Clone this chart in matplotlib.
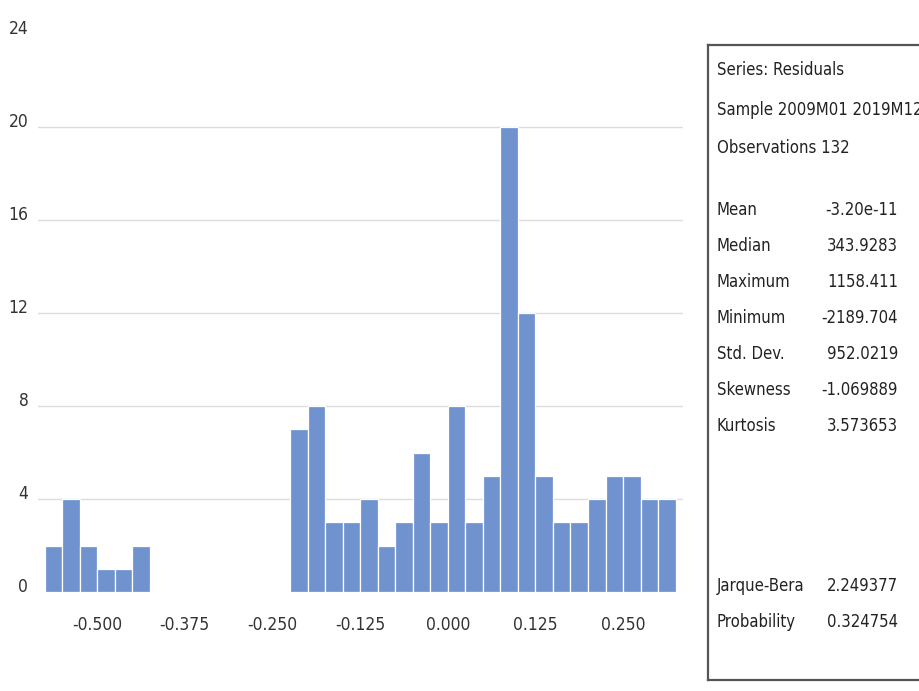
import numpy as np
import matplotlib
matplotlib.use("Agg")
import matplotlib.pyplot as plt
from matplotlib.lines import Line2D
from matplotlib.transforms import ScaledTranslation

plt.rcParams['font.family'] = ['DejaVu Sans']
plt.rcParams['font.stretch'] = 'condensed'

# Histogram of residuals: bin edges every 0.025
bin_start = -0.575
bin_width = 0.025
counts = [2, 4, 2, 1, 1, 2,
          0, 0, 0, 0, 0, 0, 0, 0,
          7, 8, 3, 3, 4, 2, 3, 6, 3, 8, 3, 5, 20, 12, 5, 3, 3, 4, 5, 5, 4, 4]

x_ticks = [-0.500, -0.375, -0.250, -0.125, 0.000, 0.125, 0.250]
x_tick_labels = ["-0.500", "-0.375", "-0.250", "-0.125", "0.000", "0.125", "0.250"]
y_ticks = [0, 4, 8, 12, 16, 20, 24]

header_lines = ["Series: Residuals", "Sample 2009M01 2019M12", "Observations 132"]
stat_names = ["Mean", "Median", "Maximum", "Minimum", "Std. Dev.", "Skewness", "Kurtosis"]
stat_values = ["-3.20e-11", "343.9283", "1158.411", "-2189.704", "952.0219", "-1.069889", "3.573653"]
test_names = ["Jarque-Bera", "Probability"]
test_values = ["2.249377", "0.324754"]

W, H = 919, 691
fig = plt.figure(figsize=(W / 100, H / 100), dpi=100)
fig.patch.set_facecolor("white")

ax_left, ax_right, ax_top, ax_bottom = 38, 683, 34, 592
ax = fig.add_axes([ax_left / W, (H - ax_bottom) / H,
                   (ax_right - ax_left) / W, (ax_bottom - ax_top) / H])

edges = bin_start + bin_width * np.arange(len(counts) + 1)
ax.bar(edges[:-1], counts, width=bin_width, align="edge",
       color="#7093cf", edgecolor="white", linewidth=0.9, zorder=2)

ax.set_xlim(-0.5844, 0.3355)
ax.set_ylim(0, 24)
ax.set_yticks(y_ticks)
ax.set_xticks(x_ticks)
ax.set_xticklabels(x_tick_labels)
for y in y_ticks[1:-1]:
    ax.axhline(y, color="#dcdcdc", linewidth=1.0, zorder=1)
for s in ax.spines.values():
    s.set_visible(False)
ax.tick_params(axis="both", length=0, labelsize=12.5, colors="#333333")
ax.tick_params(axis="x", pad=17)
ax.tick_params(axis="y", pad=7)
lift = ScaledTranslation(0, 5 / 72, fig.dpi_scale_trans)
for lab in ax.get_yticklabels():
    lab.set_transform(lab.get_transform() + lift)

# statistics panel
bx = 708
top_y = 45
bot_y = 680
line_kw = dict(color="#555555", linewidth=1.6, transform=fig.transFigure)
fig.add_artist(Line2D([bx / W, bx / W], [1 - bot_y / H, 1 - top_y / H], **line_kw))
fig.add_artist(Line2D([bx / W, 1], [1 - top_y / H, 1 - top_y / H], **line_kw))
fig.add_artist(Line2D([bx / W, 1], [1 - bot_y / H, 1 - bot_y / H], **line_kw))

txt_kw = dict(fontsize=12, color="#222222", va="center")
lx = 717 / W
vx = 898 / W
rows_y = [70, 110, 148]
for t, y in zip(header_lines, rows_y):
    fig.text(lx, 1 - y / H, t, ha="left", **txt_kw)
stat_y = [210, 246, 282, 318, 354, 390, 426]
for n, v, y in zip(stat_names, stat_values, stat_y):
    fig.text(lx, 1 - y / H, n, ha="left", **txt_kw)
    fig.text(vx, 1 - y / H, v, ha="right", **txt_kw)
test_y = [586, 622]
for n, v, y in zip(test_names, test_values, test_y):
    fig.text(lx, 1 - y / H, n, ha="left", **txt_kw)
    fig.text(vx, 1 - y / H, v, ha="right", **txt_kw)

fig.savefig("out.png", dpi=100)
